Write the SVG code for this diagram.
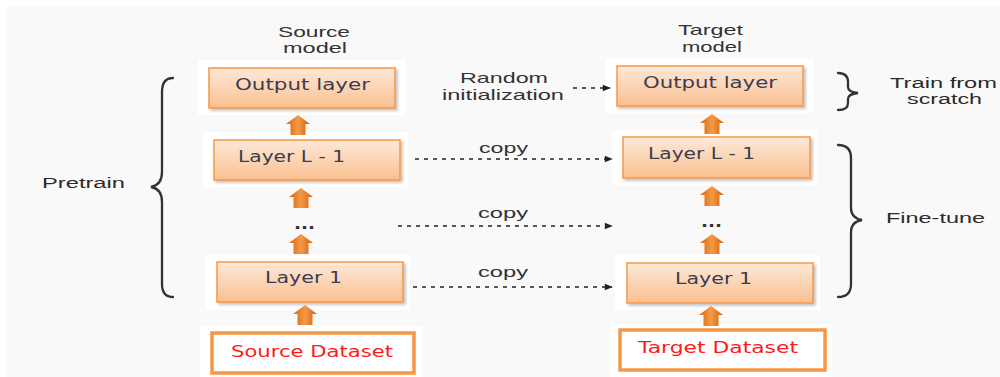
<svg xmlns="http://www.w3.org/2000/svg" width="1000" height="377" viewBox="0 0 1000 377">
  <defs>
    <linearGradient id="boxFill" x1="0" y1="0" x2="0" y2="1">
      <stop offset="0" stop-color="#fde9d9"/>
      <stop offset="1" stop-color="#fac090"/>
    </linearGradient>
    <linearGradient id="upFill" x1="0" y1="0" x2="1" y2="0">
      <stop offset="0" stop-color="#d9640a"/>
      <stop offset="0.5" stop-color="#f49a48"/>
      <stop offset="1" stop-color="#d0600a"/>
    </linearGradient>
    <filter id="shadow" x="-5%" y="-10%" width="115%" height="130%">
      <feGaussianBlur in="SourceAlpha" stdDeviation="1.5"/>
      <feOffset dx="1.5" dy="2" result="b"/>
      <feComponentTransfer><feFuncA type="linear" slope="0.25"/></feComponentTransfer>
      <feMerge><feMergeNode/><feMergeNode in="SourceGraphic"/></feMerge>
    </filter>
    <marker id="head" viewBox="0 0 10 10" refX="9" refY="5" markerWidth="9" markerHeight="8" markerUnits="userSpaceOnUse" orient="auto">
      <path d="M0,1 L10,5 L0,9 Z" fill="#222"/>
    </marker>
    <!-- small upward block arrow, centred on x=0, top at y=0 -->
    <path id="up" d="M0,0 L12,9 L7.5,9 L7.5,20 L-7.5,20 L-7.5,9 L-12,9 Z" fill="url(#upFill)"/>
  </defs>
  <style>
    .layer { fill: url(#boxFill); stroke: #f79646; stroke-width: 1.5; filter: url(#shadow); }
    .pad { fill: #ffffff; }
    .data { fill: #ffffff; stroke: #f79646; stroke-width: 3.5; }
    .ltxt { font-family: "DejaVu Sans", Verdana, sans-serif; font-size: 16px; fill: #3c3c4e; }
    .dtxt { font-family: "DejaVu Sans", Verdana, sans-serif; font-size: 16px; fill: #ff1a1a; }
    .lbl { font-family: "Liberation Sans", Arial, sans-serif; font-size: 15px; fill: #333; }
    .side { font-family: "Liberation Sans", Arial, sans-serif; font-size: 15.5px; fill: #2a2a2a; }
    .dots { font-family: "DejaVu Sans", Verdana, sans-serif; font-size: 16px; font-weight: bold; fill: #333; }
    .dash { stroke: #222; stroke-width: 1.6; stroke-dasharray: 4 5; fill: none; }
    .brace { stroke: #333; stroke-width: 2.3; fill: none; stroke-linecap: round; }
  </style>

  <!-- page -->
  <rect x="0" y="0" width="1000" height="377" fill="#ffffff"/>
  <rect x="7" y="6" width="993" height="371" fill="#f9f9f9"/>

  <!-- white pads behind the stacks -->
  <rect class="pad" x="198" y="60" width="208" height="55"/>
  <rect class="pad" x="203" y="132" width="205" height="55"/>
  <rect class="pad" x="205" y="255" width="205" height="55"/>
  <rect class="pad" x="200" y="326" width="222" height="51"/>
  <rect class="pad" x="605" y="58" width="208" height="55"/>
  <rect class="pad" x="612" y="130" width="205" height="55"/>
  <rect class="pad" x="615" y="255" width="205" height="55"/>
  <rect class="pad" x="610" y="324" width="222" height="53"/>

  <!-- column headings -->
  <text class="lbl" x="278" y="37" textLength="72" lengthAdjust="spacingAndGlyphs">Source</text>
  <text class="lbl" x="283" y="53" textLength="64" lengthAdjust="spacingAndGlyphs">model</text>
  <text class="lbl" x="678" y="35" textLength="65" lengthAdjust="spacingAndGlyphs">Target</text>
  <text class="lbl" x="682" y="52" textLength="60" lengthAdjust="spacingAndGlyphs">model</text>

  <!-- source model -->
  <g id="src-output">
    <rect class="layer" x="209" y="68" width="186" height="40"/>
    <text class="ltxt" x="235" y="90" textLength="135" lengthAdjust="spacingAndGlyphs">Output layer</text>
  </g>
  <g id="src-layer-l1">
    <rect class="layer" x="214" y="140" width="186" height="40"/>
    <text class="ltxt" x="238" y="162" textLength="107" lengthAdjust="spacingAndGlyphs">Layer L - 1</text>
  </g>
  <g id="src-dots">
    <text class="dots" x="294" y="229" textLength="21" lengthAdjust="spacingAndGlyphs">...</text>
  </g>
  <g id="src-layer-1">
    <rect class="layer" x="217" y="262" width="186" height="40"/>
    <text class="ltxt" x="265" y="283" textLength="77" lengthAdjust="spacingAndGlyphs">Layer 1</text>
  </g>
  <g id="src-dataset">
    <rect class="data" x="212" y="333" width="202" height="40"/>
    <text class="dtxt" x="231" y="357" textLength="162" lengthAdjust="spacingAndGlyphs">Source Dataset</text>
  </g>

  <!-- target model -->
  <g id="tgt-output">
    <rect class="layer" x="617" y="66" width="186" height="40"/>
    <text class="ltxt" x="643" y="88" textLength="134" lengthAdjust="spacingAndGlyphs">Output layer</text>
  </g>
  <g id="tgt-layer-l1">
    <rect class="layer" x="623" y="137" width="187" height="41"/>
    <text class="ltxt" x="648" y="159" textLength="107" lengthAdjust="spacingAndGlyphs">Layer L - 1</text>
  </g>
  <g id="tgt-dots">
    <text class="dots" x="701" y="227" textLength="21" lengthAdjust="spacingAndGlyphs">...</text>
  </g>
  <g id="tgt-layer-1">
    <rect class="layer" x="627" y="263" width="186" height="40"/>
    <text class="ltxt" x="675" y="284" textLength="77" lengthAdjust="spacingAndGlyphs">Layer 1</text>
  </g>
  <g id="tgt-dataset">
    <rect class="data" x="620" y="330" width="205" height="40"/>
    <text class="dtxt" x="638" y="353" textLength="160" lengthAdjust="spacingAndGlyphs">Target Dataset</text>
  </g>

  <!-- upward flow arrows -->
  <g id="flow">
    <use href="#up" x="298" y="115"/>
    <use href="#up" x="301" y="188"/>
    <use href="#up" x="301" y="234"/>
    <use href="#up" x="305" y="305"/>
    <use href="#up" x="712" y="114"/>
    <use href="#up" x="712" y="186"/>
    <use href="#up" x="712" y="234"/>
    <use href="#up" x="711" y="306"/>
  </g>

  <!-- transfer connectors -->
  <g id="connectors">
    <text class="lbl" x="460" y="83" textLength="88" lengthAdjust="spacingAndGlyphs">Random</text>
    <text class="lbl" x="442" y="100" textLength="122" lengthAdjust="spacingAndGlyphs">initialization</text>
    <line class="dash" x1="573" y1="88" x2="610" y2="88" marker-end="url(#head)"/>
    <text class="lbl" x="479" y="153" textLength="49" lengthAdjust="spacingAndGlyphs">copy</text>
    <line class="dash" x1="415" y1="159" x2="612" y2="159" marker-end="url(#head)"/>
    <text class="lbl" x="478" y="218" textLength="50" lengthAdjust="spacingAndGlyphs">copy</text>
    <line class="dash" x1="398" y1="226" x2="612" y2="226" marker-end="url(#head)"/>
    <text class="lbl" x="478" y="277" textLength="50" lengthAdjust="spacingAndGlyphs">copy</text>
    <line class="dash" x1="413" y1="287" x2="612" y2="287" marker-end="url(#head)"/>
  </g>

  <!-- braces and phase labels -->
  <g id="pretrain">
    <path class="brace" d="M173,78 Q162,78 162,92 L162,172 Q162,185 151,187 Q162,189 162,202 L162,284 Q162,297 173,297"/>
    <text class="side" x="42" y="188" textLength="83" lengthAdjust="spacingAndGlyphs">Pretrain</text>
  </g>
  <g id="scratch">
    <path class="brace" d="M838,73 Q848,73 848,82 L848,87 Q848,92 858,93 Q848,94 848,99 L848,103 Q848,110 838,110"/>
    <text class="side" x="890" y="88" textLength="107" lengthAdjust="spacingAndGlyphs">Train from</text>
    <text class="side" x="907" y="104" textLength="75" lengthAdjust="spacingAndGlyphs">scratch</text>
  </g>
  <g id="finetune">
    <path class="brace" d="M838,145 Q851,145 851,158 L851,208 Q851,218 862,220 Q851,222 851,232 L851,284 Q851,297 838,297"/>
    <text class="side" x="886" y="223" textLength="99" lengthAdjust="spacingAndGlyphs">Fine-tune</text>
  </g>
</svg>
